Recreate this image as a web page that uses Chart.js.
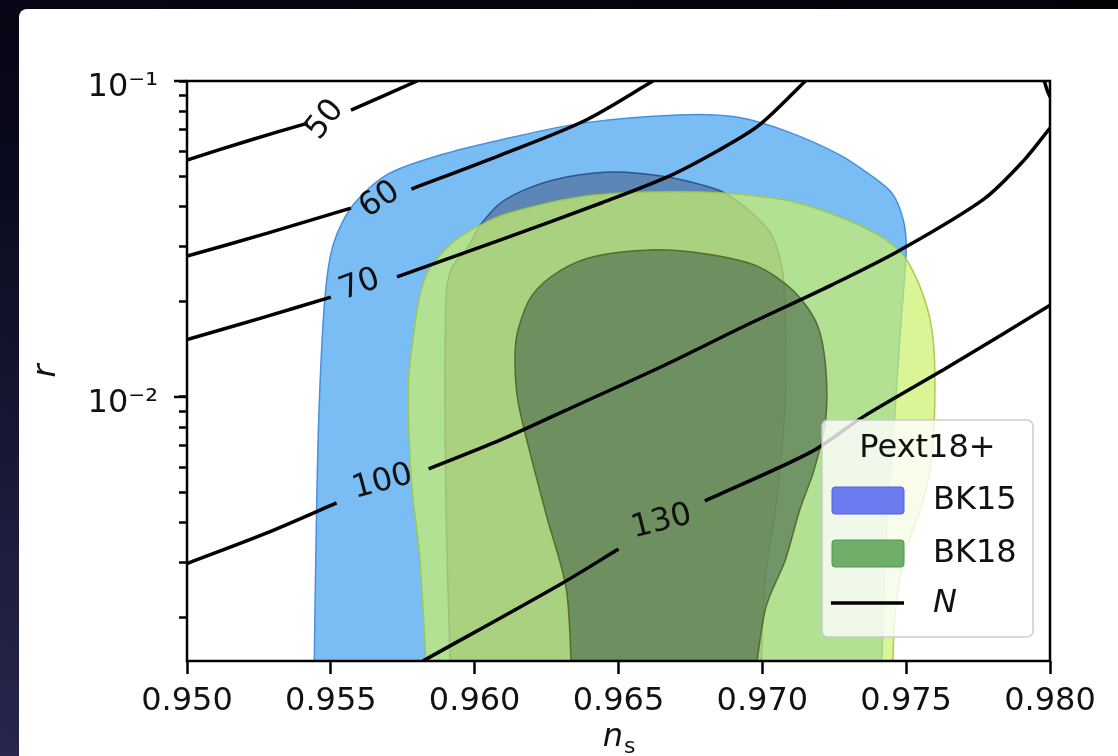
<!DOCTYPE html>
<html>
<head>
<meta charset="utf-8">
<script src="https://cdn.jsdelivr.net/npm/chart.js@4.4.1/dist/chart.umd.min.js"></script>
<style>
  html, body { margin: 0; padding: 0; }
  body {
    width: 1118px; height: 756px; overflow: hidden; position: relative;
    background: linear-gradient(200deg, #020207 0%, #08081a 45%, #27274f 100%);
  }
  #panel {
    position: absolute; left: 19px; top: 9px; width: 1099px; height: 747px;
    background: #fff; border-top-left-radius: 8px; overflow: hidden;
  }
  canvas { display: block; }
</style>
</head>
<body>
<div id="panel"><canvas id="c" width="1099" height="747"></canvas></div>
<script>
// axis ticks
const nsTicks = [0.950, 0.955, 0.960, 0.965, 0.970, 0.975, 0.980];
const rTicks = [0.002, 0.003, 0.004, 0.005, 0.006, 0.007, 0.008, 0.009, 0.01,
                0.02, 0.03, 0.04, 0.05, 0.06, 0.07, 0.08, 0.09, 0.1];
const rMajor = [0.01, 0.1];
const rMajorLabels = ['10⁻²', '10⁻¹'];

// BK15 contours (n_s, r)
const bk15Outer = [
  [0.9544, 0.00100], [0.9545, 0.00420], [0.9546, 0.00964], [0.9548, 0.0209],
  [0.9551, 0.0307], [0.9558, 0.0408], [0.9570, 0.0508], [0.9588, 0.0583],
  [0.9609, 0.0651], [0.9638, 0.0737], [0.9671, 0.0781], [0.9691, 0.0769],
  [0.9709, 0.0690], [0.9727, 0.0583], [0.9737, 0.0508], [0.9745, 0.0442],
  [0.9749, 0.0363], [0.9750, 0.0292], [0.9748, 0.0163], [0.9746, 0.00864],
  [0.9743, 0.00353], [0.9741, 0.00100]
];
const bk15Inner = [
  [0.9592, 0.00100], [0.9590, 0.00472], [0.9590, 0.0203], [0.9592, 0.0256],
  [0.9597, 0.0292], [0.9602, 0.0350], [0.9609, 0.0411], [0.9619, 0.0459],
  [0.9632, 0.0497], [0.9649, 0.0515], [0.9667, 0.0497], [0.9679, 0.0469],
  [0.9687, 0.0442], [0.9696, 0.0385], [0.9703, 0.0328], [0.9707, 0.0252],
  [0.9708, 0.0175], [0.9708, 0.00978], [0.9705, 0.00472], [0.9701, 0.00264],
  [0.9699, 0.00100]
];

// BK18 contours (n_s, r)
const bk18Outer = [
  [0.9584, 0.00100], [0.9581, 0.00305], [0.9578, 0.00546], [0.9577, 0.0110],
  [0.9579, 0.0163], [0.9581, 0.0210], [0.9584, 0.0252], [0.9593, 0.0312],
  [0.9602, 0.0350], [0.9612, 0.0382], [0.9637, 0.0430], [0.9661, 0.0445],
  [0.9686, 0.0442], [0.9711, 0.0414], [0.9735, 0.0345], [0.9748, 0.0288],
  [0.9755, 0.0221], [0.9759, 0.0162], [0.9760, 0.0110], [0.9759, 0.00651],
  [0.9756, 0.00472], [0.9749, 0.00305], [0.9746, 0.00197], [0.9745, 0.00100]
];
const bk18Inner = [
  [0.9634, 0.00100], [0.9632, 0.00242], [0.9625, 0.00420], [0.9619, 0.00680],
  [0.9615, 0.00978], [0.9614, 0.0131], [0.9615, 0.0162], [0.9620, 0.0210],
  [0.9630, 0.0252], [0.9642, 0.0279], [0.9661, 0.0292], [0.9680, 0.0284],
  [0.9698, 0.0260], [0.9711, 0.0216], [0.9719, 0.0170], [0.9722, 0.0125],
  [0.9722, 0.00846], [0.9718, 0.00588], [0.9713, 0.00439], [0.9708, 0.00305],
  [0.9701, 0.00212], [0.9696, 0.00100]
];

// lines of constant N (null = gap left for the inline label)
const nLevels = [50, 60, 70, 100, 130];
const lineN50 = [[0.9500, 0.0562], [0.9521, 0.0646], [0.9542, 0.0736], null,
  [0.9557, 0.0809], [0.9580, 0.1000]];
const lineN60 = [[0.9500, 0.0279], [0.9528, 0.0330], [0.9557, 0.0396], null,
  [0.9578, 0.0455], [0.9609, 0.0583], [0.9638, 0.0747], [0.9662, 0.1000]];
const lineN70 = [[0.9500, 0.0152], [0.9526, 0.0178], [0.9550, 0.0207], null,
  [0.9573, 0.0240], [0.9609, 0.0314], [0.9644, 0.0411], [0.9667, 0.0497],
  [0.9685, 0.0605], [0.9699, 0.0726], [0.9715, 0.1000]];
const lineN100 = [[0.9500, 0.00297], [0.9528, 0.00372], [0.9552, 0.00462], null,
  [0.9584, 0.00592], [0.9609, 0.00731], [0.9638, 0.00964], [0.9666, 0.0126],
  [0.9694, 0.0168], [0.9724, 0.0226], [0.9748, 0.0292], [0.9777, 0.0423],
  [0.9791, 0.0562], [0.9800, 0.0710]];
const lineN130 = [[0.9582, 0.00146], [0.9630, 0.00256], [0.9650, 0.00330], null,
  [0.9680, 0.00469], [0.9717, 0.00670], [0.9735, 0.00865], [0.9765, 0.0125],
  [0.9800, 0.0195]];
const lineCorner = [[0.9798, 0.1000], [0.9799, 0.0936], [0.9800, 0.0890]];

// where the contour labels sit
const labelNs = [0.9548, 0.9567, 0.9560, 0.9568, 0.9665];
const labelR = [0.0753, 0.0420, 0.0226, 0.00538, 0.00402];
const labelAngle = [-52, -33, -20, -15, -14];

const FONT = '"DejaVu Sans", "Liberation Sans", sans-serif';
Chart.defaults.font.family = FONT;
Chart.defaults.font.size = 32;
Chart.defaults.color = '#111';

const toPts = arr => arr.map((p, i) => p ? { x: p[0], y: p[1] } : { x: arr[i - 1][0], y: null });

function region(label, arr, fill, edge, order) {
  return {
    label, data: toPts(arr), showLine: true, fill: 'shape',
    backgroundColor: fill, borderColor: edge, borderWidth: 1.5,
    pointRadius: 0, tension: 0.3, order, clip: 0
  };
}
function nLine(label, arr) {
  return {
    label, data: toPts(arr), showLine: true, fill: false, spanGaps: false,
    borderColor: '#000', borderWidth: 3.5, pointRadius: 0, tension: 0.3, order: 0, clip: 0
  };
}

const decor = {
  id: 'decor',
  afterDatasetsDraw(chart) {
    const { ctx, chartArea: a, scales: { x, y } } = chart;
    ctx.save();
    // inline contour labels
    ctx.font = '32px ' + FONT;
    ctx.fillStyle = '#111';
    ctx.textAlign = 'center';
    ctx.textBaseline = 'middle';
    nLevels.forEach((lvl, i) => {
      ctx.save();
      ctx.translate(x.getPixelForValue(labelNs[i]), y.getPixelForValue(labelR[i]));
      ctx.rotate(labelAngle[i] * Math.PI / 180);
      ctx.fillText(String(lvl), 0, 0);
      ctx.restore();
    });
    // frame
    ctx.strokeStyle = '#000';
    ctx.lineWidth = 2.5;
    ctx.strokeRect(a.left, a.top, a.right - a.left, a.bottom - a.top);
    // longer major ticks on log axis
    rMajor.forEach(v => {
      const py = y.getPixelForValue(v);
      ctx.beginPath();
      ctx.moveTo(a.left - 13, py);
      ctx.lineTo(a.left, py);
      ctx.stroke();
    });
    // axis titles
    ctx.fillStyle = '#111';
    ctx.save();
    ctx.translate(28, (a.top + a.bottom) / 2);
    ctx.rotate(-Math.PI / 2);
    ctx.font = 'italic 32px ' + FONT;
    ctx.fillText('r', 0, 0);
    ctx.restore();
    const cx = (a.left + a.right) / 2;
    ctx.textAlign = 'left';
    ctx.textBaseline = 'alphabetic';
    ctx.font = 'italic 32px ' + FONT;
    const wn = ctx.measureText('n').width;
    ctx.font = '22px ' + FONT;
    const ws = ctx.measureText('s').width;
    const x0 = cx - (wn + ws) / 2;
    ctx.font = 'italic 32px ' + FONT;
    ctx.fillText('n', x0, 737);
    ctx.font = '22px ' + FONT;
    ctx.fillText('s', x0 + wn + 1, 744);
    ctx.restore();
  },
  afterDraw(chart) {
    const { ctx, chartArea: a } = chart;
    const w = 211, h = 217;
    const L = a.right - 17 - w, T = a.bottom - 24 - h;
    ctx.save();
    ctx.beginPath();
    ctx.roundRect(L, T, w, h, 6);
    ctx.fillStyle = 'rgba(255,255,255,0.8)';
    ctx.fill();
    ctx.strokeStyle = 'rgba(200,200,200,0.9)';
    ctx.lineWidth = 1.5;
    ctx.stroke();
    ctx.font = '32px ' + FONT;
    ctx.fillStyle = '#111';
    ctx.textAlign = 'center';
    ctx.textBaseline = 'middle';
    ctx.fillText('Pext18+', L + w / 2, T + 29);
    ctx.textAlign = 'left';
    // BK15 patch
    ctx.beginPath();
    ctx.roundRect(L + 10, T + 67, 72, 27, 3);
    ctx.fillStyle = 'rgba(98,112,240,0.92)';
    ctx.fill();
    ctx.strokeStyle = 'rgba(80,95,225,1)';
    ctx.lineWidth = 1;
    ctx.stroke();
    // BK18 patch
    ctx.beginPath();
    ctx.roundRect(L + 10, T + 120, 72, 27, 3);
    ctx.fillStyle = 'rgba(100,168,92,0.92)';
    ctx.fill();
    ctx.strokeStyle = 'rgba(85,150,80,1)';
    ctx.stroke();
    // N line
    ctx.beginPath();
    ctx.moveTo(L + 9, T + 183);
    ctx.lineTo(L + 82, T + 183);
    ctx.strokeStyle = '#000';
    ctx.lineWidth = 3.5;
    ctx.stroke();
    ctx.fillStyle = '#111';
    ctx.fillText('BK15', L + 111, T + 81);
    ctx.fillText('BK18', L + 111, T + 134);
    ctx.font = 'italic 32px ' + FONT;
    ctx.fillText('N', L + 111, T + 184);
    ctx.restore();
  }
};

new Chart(document.getElementById('c'), {
  type: 'scatter',
  data: {
    datasets: [
      nLine('N = 50', lineN50),
      nLine('N = 60', lineN60),
      nLine('N = 70', lineN70),
      nLine('N = 100', lineN100),
      nLine('N = 130', lineN130),
      nLine('N corner', lineCorner),
      region('BK18 68%', bk18Inner, 'rgba(71,99,73,0.6)', 'rgba(80,100,40,0.9)', 2),
      region('BK18 95%', bk18Outer, 'rgba(202,241,105,0.7)', 'rgba(160,200,70,0.9)', 3),
      region('BK15 68%', bk15Inner, 'rgba(60,80,120,0.5)', 'rgba(40,75,130,0.9)', 4),
      region('BK15 95%', bk15Outer, 'rgb(122,189,245)', 'rgb(70,145,220)', 5)
    ]
  },
  options: {
    responsive: false,
    animation: false,
    devicePixelRatio: 1,
    layout: { padding: { top: 72, right: 68, left: 0, bottom: 0 } },
    plugins: { legend: { display: false }, tooltip: { enabled: false } },
    scales: {
      x: {
        type: 'linear', min: 0.95, max: 0.98,
        border: { display: false },
        grid: { drawOnChartArea: false, tickLength: 13, tickWidth: 2.5, tickColor: '#000' },
        ticks: { padding: 8, autoSkip: false, maxRotation: 0, callback: v => v.toFixed(3) },
        afterBuildTicks: s => { s.ticks = nsTicks.map(v => ({ value: v })); },
        afterFit: s => { s.height = 95; }
      },
      y: {
        type: 'logarithmic', min: 0.00146, max: 0.1,
        border: { display: false },
        grid: { drawOnChartArea: false, tickLength: 8, tickWidth: 2.5, tickColor: '#000' },
        ticks: {
          padding: 21, labelOffset: 7, autoSkip: false,
          callback: v => { const i = rMajor.indexOf(v); return i >= 0 ? rMajorLabels[i] : ''; }
        },
        afterBuildTicks: s => { s.ticks = rTicks.map(v => ({ value: v })); },
        afterFit: s => { s.width = 168; }
      }
    }
  },
  plugins: [decor]
});
</script>
</body>
</html>
